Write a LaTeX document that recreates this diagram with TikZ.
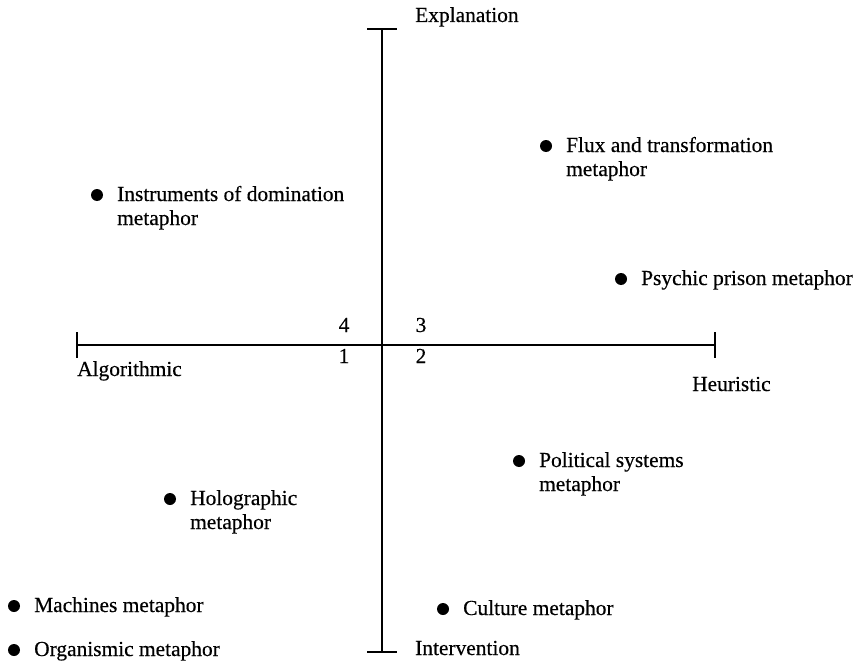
\documentclass[tikz,border=0pt]{standalone}
\usepackage{fontspec}
\setmainfont{Liberation Serif}[FakeBold=0.4]
\usetikzlibrary{positioning}

\tikzset{
  metdot/.style={circle, fill=black, inner sep=0pt, minimum size=12pt},
  metlabel/.style={anchor=base west, align=left, inner sep=0pt},
  axlabel/.style={anchor=base west, inner sep=0pt},
  quadnum/.style={anchor=base, inner sep=0pt}
}

\begin{document}
\begin{tikzpicture}[x=1pt, y=-1pt, font=\fontsize{21.4}{24}\selectfont]
\useasboundingbox (0,0) rectangle (863,661);

% axes
\coordinate (top) at (382,29);
\coordinate (bottom) at (382,652);
\coordinate (left) at (77,345);
\coordinate (right) at (715,345);
\draw[line width=1.8pt] (top) -- (bottom);
\draw[line width=1.8pt] (left) -- (right);
\draw[line width=1.5pt] ([xshift=-15pt]top) -- ([xshift=15pt]top);
\draw[line width=1.5pt] ([xshift=-15pt]bottom) -- ([xshift=15pt]bottom);
\draw[line width=1.5pt] ([yshift=13pt]left) -- ([yshift=-13pt]left);
\draw[line width=1.5pt] ([yshift=13pt]right) -- ([yshift=-13pt]right);

\node[axlabel] (expl) at (415,22) {Explanation};
\node[axlabel] (interv) at (415,655) {Intervention};
\node[axlabel] (algo) at (77,376) {Algorithmic};
\node[axlabel] (heur) at (692,391) {Heuristic};

% quadrant numbers
\node[quadnum] (q4) at (344,332) {4};
\node[quadnum] (q3) at (421,332) {3};
\node[quadnum] (q1) at (344,363) {1};
\node[quadnum] (q2) at (421,363) {2};

% metaphors (two-line labels sit on their last baseline)
\node[metdot] (flux) at (546,146) {};
\node[metlabel] (fluxtxt) at ([xshift=20pt,yshift=-30pt]flux.center) {Flux and transformation\\metaphor};

\node[metdot] (instr) at (97,195) {};
\node[metlabel] (instrtxt) at ([xshift=20pt,yshift=-30pt]instr.center) {Instruments of domination\\metaphor};

\node[metdot] (psych) at (621,279) {};
\node[metlabel] (psychtxt) at ([xshift=20pt,yshift=-6pt]psych.center) {Psychic prison metaphor};

\node[metdot] (polit) at (519,461) {};
\node[metlabel] (polittxt) at ([xshift=20pt,yshift=-30pt]polit.center) {Political systems\\metaphor};

\node[metdot] (holo) at (170,499) {};
\node[metlabel] (holotxt) at ([xshift=20pt,yshift=-30pt]holo.center) {Holographic\\metaphor};

\node[metdot] (mach) at (14,606) {};
\node[metlabel] (machtxt) at ([xshift=20pt,yshift=-6pt]mach.center) {Machines metaphor};

\node[metdot] (cult) at (443,609) {};
\node[metlabel] (culttxt) at ([xshift=20pt,yshift=-6pt]cult.center) {Culture metaphor};

\node[metdot] (organ) at (14,650) {};
\node[metlabel] (organtxt) at ([xshift=20pt,yshift=-6pt]organ.center) {Organismic metaphor};
\end{tikzpicture}
\end{document}
